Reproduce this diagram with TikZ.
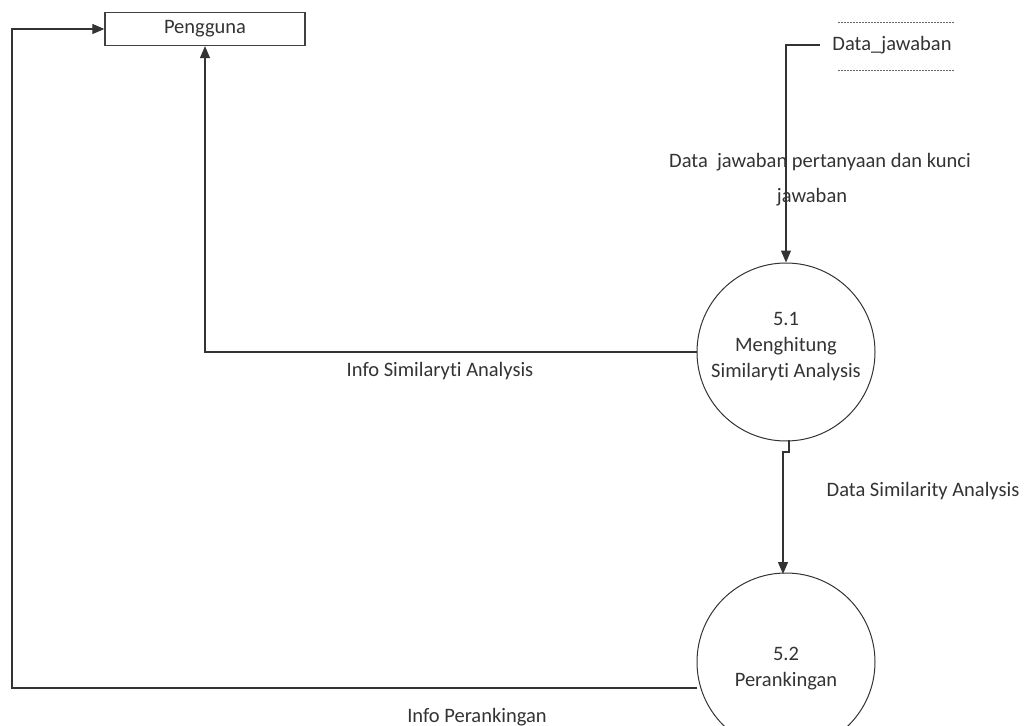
\documentclass[tikz,border=0pt]{standalone}
\usepackage{fontspec}
\setmainfont[Ligatures=NoCommon]{Carlito}
\usetikzlibrary{arrows.meta}
\begin{document}
\begin{tikzpicture}[x=1pt,y=-1pt,
  every node/.style={font=\fontsize{20.5}{26}\selectfont, text=black!80},
  flow/.style={draw=black!80, line width=1.2pt, -{Triangle[length=12pt,width=10pt]}},
  entity/.style={draw=black!75, line width=1.3pt, minimum width=200pt, minimum height=33pt, inner sep=0pt},
  proc/.style={draw=black!80, line width=1pt, circle, minimum size=178pt, inner sep=0pt, align=center},
  lbl/.style={inner sep=0pt}
]
\useasboundingbox (0,0) rectangle (1029,726);
\node[entity] (peng) at (205,29) {};
\node[lbl] (pengt) at (205,29) {Pengguna};
\node[proc] (p51) at (786,352) {};
\node[lbl, align=center] (t51) at (786,347) {5.1\\Menghitung\\Similaryti Analysis};
\node[proc] (p52) at (786,662) {};
\node[lbl, align=center] (t52) at (786,669) {5.2\\Perankingan};
% data store
\node[lbl] (ds) at (892,45) {Data\_jawaban};
\coordinate (dsT1) at (838,22); \coordinate (dsT2) at (955,22);
\coordinate (dsB1) at (838,70); \coordinate (dsB2) at (955,70);
\draw[black!60, line width=1pt, dash pattern=on 1.5pt off 1.5pt] (dsT1) -- (dsT2);
\draw[black!60, line width=1pt, dash pattern=on 1.5pt off 1.5pt] (dsB1) -- (dsB2);
\coordinate (dsL) at (820,45);
% flows
\draw[flow] (dsL) -- (786,45) -- (p51.north);
\draw[flow] (p51.west) -| (peng.south);
\coordinate (j1) at (789,452);
\draw[flow] (789,440) -- (j1) -- (783,452) -- (783,574);
\draw[flow] (p52.west |- 0,688) -- (12,688) -- (12,29) -- (peng.west);
% labels
\node[lbl] (l1) at (820,162) {Data\ \ jawaban pertanyaan dan kunci};
\node[lbl] (l1b) at (812,197) {jawaban};
\node[lbl] (l2) at (440,371) {Info Similaryti Analysis};
\node[lbl] (l3) at (923,491) {Data Similarity Analysis};
\node[lbl] (l4) at (477,717) {Info Perankingan};
\end{tikzpicture}
\end{document}
